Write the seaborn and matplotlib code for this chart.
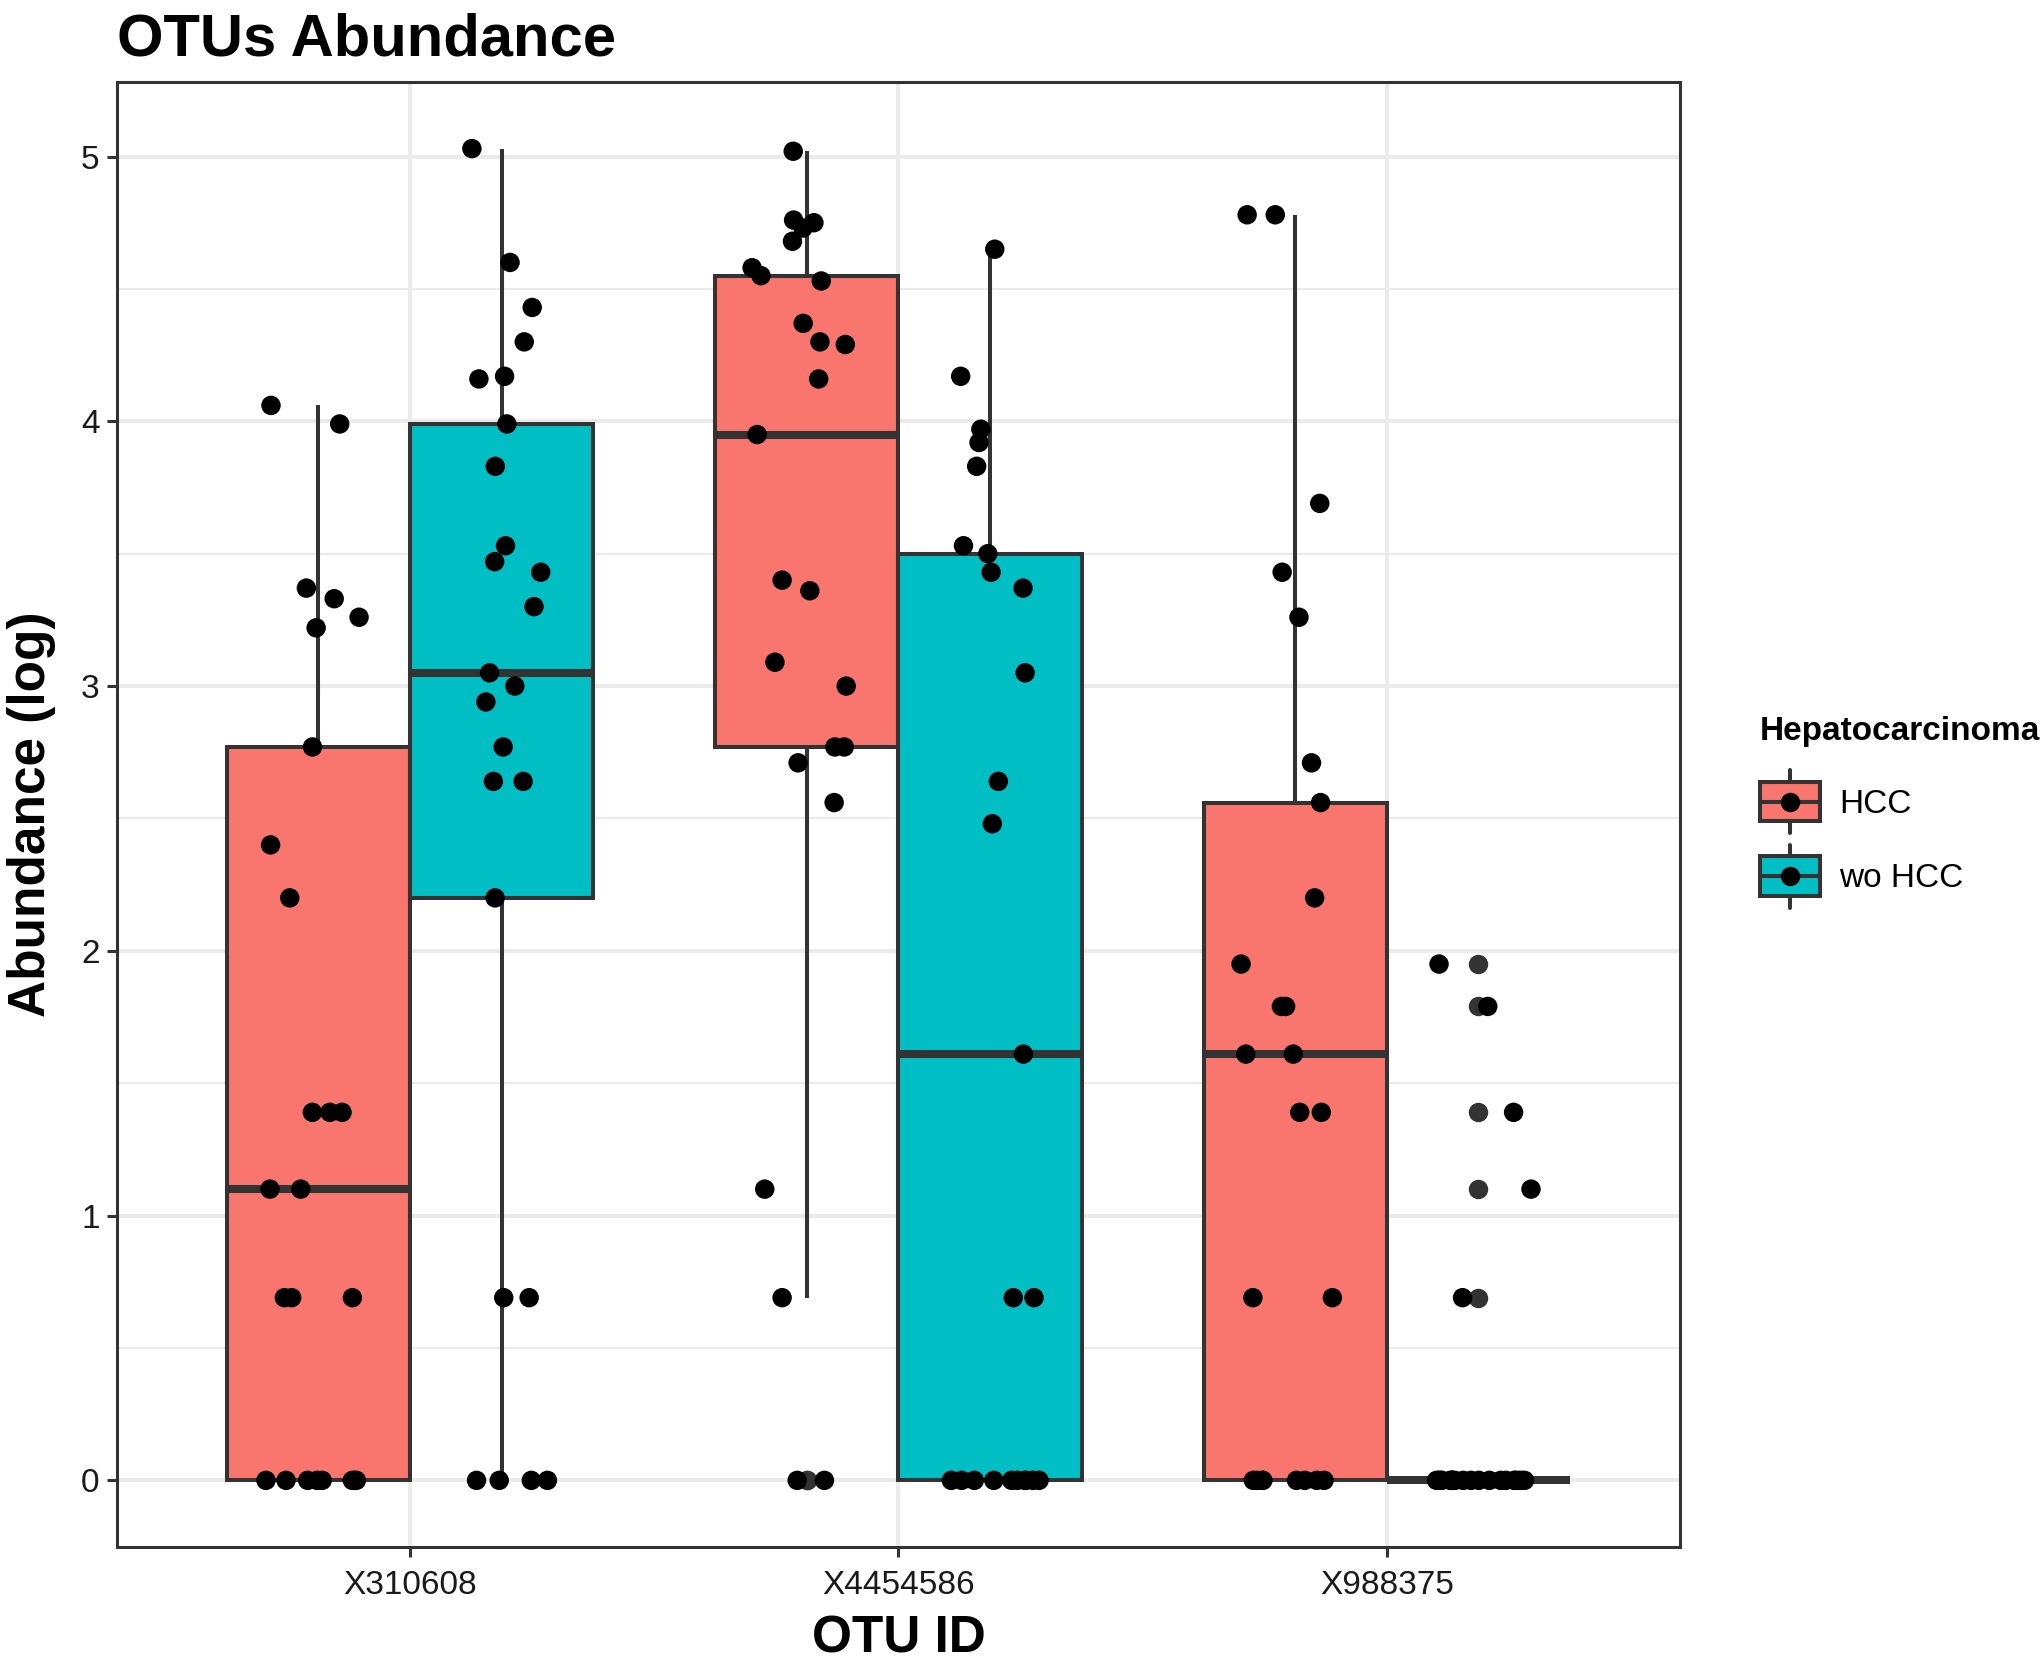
import numpy as np
import pandas as pd
import matplotlib
matplotlib.use("Agg")
import matplotlib.pyplot as plt
import seaborn as sns
from matplotlib.legend_handler import HandlerBase
from matplotlib.lines import Line2D
from matplotlib.patches import Patch, Rectangle
from matplotlib.ticker import MultipleLocator

# categories
otu_ids = ["X310608", "X4454586", "X988375"]
groups = ["HCC", "wo HCC"]
colors = ["#F8766D", "#00BFC4"]

# abundance values (log), 25 samples per group
x310608_hcc = [4.06, 3.99, 3.37, 3.33, 3.26, 3.22, 2.77, 2.40, 2.20, 1.39, 1.39, 1.39,
               1.10, 1.10, 0.69, 0.69, 0.69, 0, 0, 0, 0, 0, 0, 0, 0]
x310608_wo = [5.03, 4.60, 4.43, 4.30, 4.17, 4.16, 3.99, 3.83, 3.53, 3.47, 3.43, 3.30,
              3.05, 3.00, 2.94, 2.77, 2.64, 2.64, 2.20, 0.69, 0.69, 0, 0, 0, 0]
x4454586_hcc = [5.02, 4.76, 4.75, 4.73, 4.68, 4.58, 4.55, 4.53, 4.37, 4.30, 4.29, 4.16,
                3.95, 3.40, 3.36, 3.09, 3.00, 2.77, 2.77, 2.71, 2.56, 1.10, 0.69, 0, 0]
x4454586_wo = [4.65, 4.17, 3.97, 3.92, 3.83, 3.53, 3.50, 3.43, 3.37, 3.05, 2.64, 2.48,
               1.61, 0.69, 0.69, 0, 0, 0, 0, 0, 0, 0, 0, 0, 0]
x988375_hcc = [4.78, 4.78, 3.69, 3.43, 3.26, 2.71, 2.56, 2.20, 1.95, 1.79, 1.79, 1.61,
               1.61, 1.39, 1.39, 0.69, 0.69, 0, 0, 0, 0, 0, 0, 0, 0]
x988375_wo = [1.95, 1.79, 1.39, 1.10, 0.69, 0, 0, 0, 0, 0, 0, 0, 0, 0, 0, 0, 0, 0, 0, 0,
              0, 0, 0, 0, 0]

LINE = "#333333"

series = {
    ("X310608", "HCC"): x310608_hcc,
    ("X310608", "wo HCC"): x310608_wo,
    ("X4454586", "HCC"): x4454586_hcc,
    ("X4454586", "wo HCC"): x4454586_wo,
    ("X988375", "HCC"): x988375_hcc,
    ("X988375", "wo HCC"): x988375_wo,
}
rows = []
for (otu, grp), vals in series.items():
    for v in vals:
        rows.append({"otu": otu, "group": grp, "abundance": v})
df = pd.DataFrame(rows)


class BoxKey(HandlerBase):
    # legend key that looks like a little boxplot with a point on it
    def create_artists(self, legend, orig_handle, xdescent, ydescent,
                       width, height, fontsize, trans):
        x0, y0 = -xdescent, -ydescent
        cx, cy = x0 + width / 2, y0 + height / 2
        ext = height * 0.3
        whisk = Line2D([cx, cx], [y0 - ext, y0 + height + ext], color=LINE,
                       lw=2.9, transform=trans)
        box = Rectangle((x0, y0), width, height, facecolor=orig_handle.get_facecolor(),
                        edgecolor=LINE, lw=2.9, transform=trans)
        med = Line2D([x0, x0 + width], [cy, cy], color=LINE, lw=2.9, transform=trans)
        dot = Line2D([cx], [cy], marker="o", markersize=14, color="black",
                     markeredgewidth=0, linestyle="none", transform=trans)
        return [whisk, box, med, dot]


sns.set_style("white")
plt.rcParams["font.family"] = ["Liberation Sans", "DejaVu Sans"]
plt.rcParams["text.color"] = "black"
plt.rcParams["axes.labelcolor"] = "black"

fig = plt.figure(figsize=(20.42, 16.6), dpi=100)
ax = fig.add_axes([0.0573, 0.0681, 0.7654, 0.8825])

sns.boxplot(data=df, x="otu", y="abundance", hue="group", order=otu_ids,
            hue_order=groups, palette=colors, saturation=1, width=0.75, gap=0,
            linecolor=LINE, linewidth=2.9, whis=1.5, legend=False, ax=ax,
            medianprops={"linewidth": 5.8, "color": LINE},
            capprops={"visible": False},
            flierprops={"marker": "o", "markerfacecolor": LINE,
                        "markeredgecolor": "none", "markersize": 14})

np.random.seed(7)
sns.stripplot(data=df, x="otu", y="abundance", hue="group", order=otu_ids,
              hue_order=groups, palette=["black", "black"], dodge=True, jitter=0.2,
              size=14, linewidth=0, legend=False, ax=ax, zorder=4)

ymax = df["abundance"].max()
ax.set_ylim(-0.05 * ymax, 1.05 * ymax)
ax.set_xlim(-0.6, 2.6)

ax.yaxis.set_major_locator(MultipleLocator(1))
ax.yaxis.set_minor_locator(MultipleLocator(0.5))
ax.grid(which="major", color="#EBEBEB", linewidth=2.9)
ax.grid(which="minor", axis="y", color="#EBEBEB", linewidth=1.45)
ax.set_axisbelow(True)

for s in ax.spines.values():
    s.set_visible(True)
    s.set_color(LINE)
    s.set_linewidth(2.2)

ax.tick_params(which="major", length=7.5, width=2.2, color=LINE, labelsize=24,
               labelcolor="#1A1A1A", bottom=True, left=True)
ax.tick_params(axis="x", pad=9)
ax.tick_params(axis="y", pad=5)
ax.tick_params(which="minor", length=0)

ax.set_xlabel("OTU ID", fontsize=37, fontweight="bold", labelpad=10)
ax.set_ylabel("Abundance (log)", fontsize=37, fontweight="bold", labelpad=18)

fig.text(117 / 2042, 1 - 55 / 1660, "OTUs Abundance", fontsize=43,
         fontweight="bold", ha="left", va="baseline")

handles = [Patch(facecolor=c) for c in colors]
ax.legend(handles=handles, labels=groups, handler_map={Patch: BoxKey()},
          title="Hepatocarcinoma", title_fontproperties={"weight": "bold", "size": 24},
          fontsize=24, frameon=False, loc="center left", alignment="left",
          bbox_to_anchor=(1760 / 2042, 0.5145), bbox_transform=fig.transFigure,
          borderpad=0, borderaxespad=0, handlelength=1.8, handleheight=1.45,
          handletextpad=0.57, labelspacing=1.05)

fig.savefig("out.png", dpi=100)
